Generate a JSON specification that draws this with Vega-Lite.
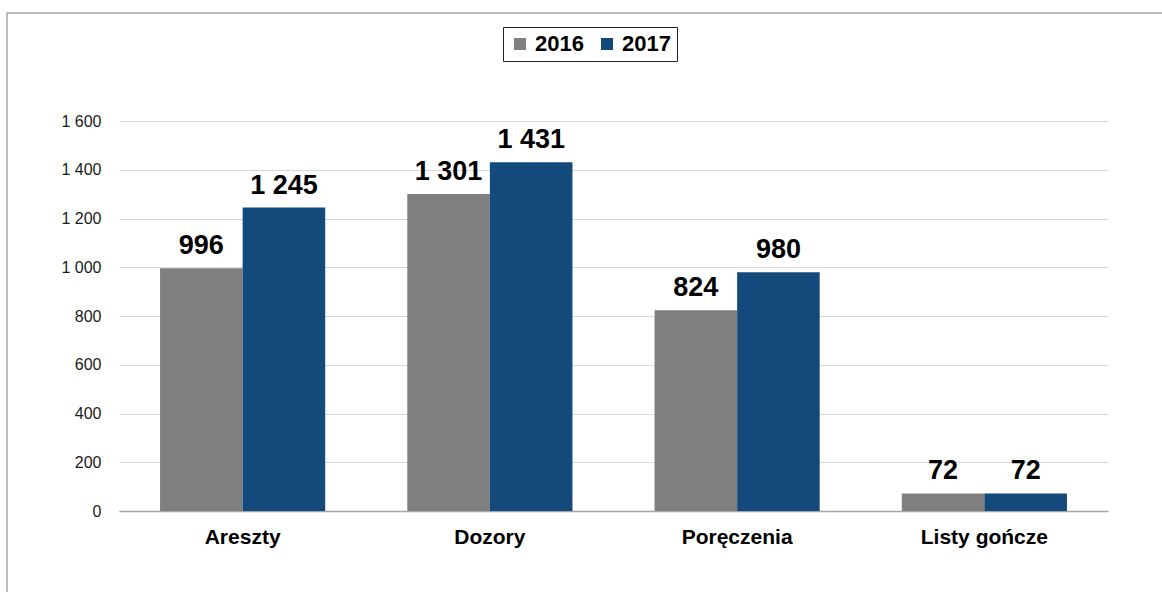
{
  "$schema": "https://vega.github.io/schema/vega-lite/v6.json",
  "autosize": "none",
  "padding": {"left": 7, "top": 13, "right": 0, "bottom": 0},
  "width": 1159,
  "height": 583,
  "background": "white",
  "config": {
    "locale": {"number": {"decimal": ",", "thousands": "\u00a0", "grouping": [3], "currency": ["", ""]}},
    "view": {"stroke": "#a6a6a6", "strokeWidth": 1.5},
    "font": "Liberation Sans"
  },
  "data": {
    "values": [
      {"kategoria": "Areszty", "rok": "2016", "liczba": 996},
      {"kategoria": "Areszty", "rok": "2017", "liczba": 1245},
      {"kategoria": "Dozory", "rok": "2016", "liczba": 1301},
      {"kategoria": "Dozory", "rok": "2017", "liczba": 1431},
      {"kategoria": "Poręczenia", "rok": "2016", "liczba": 824},
      {"kategoria": "Poręczenia", "rok": "2017", "liczba": 980},
      {"kategoria": "Listy gończe", "rok": "2016", "liczba": 72},
      {"kategoria": "Listy gończe", "rok": "2017", "liczba": 72}
    ]
  },
  "encoding": {
    "x": {
      "field": "kategoria",
      "type": "nominal",
      "sort": ["Areszty", "Dozory", "Poręczenia", "Listy gończe"],
      "scale": {"range": [112, 1101], "paddingInner": 0.332, "paddingOuter": 0.166},
      "axis": {
        "title": null,
        "orient": "bottom",
        "offset": -85,
        "labelAngle": 0,
        "ticks": false,
        "domainColor": "#a6a6a6",
        "domainWidth": 1.5,
        "labelFont": "Liberation Sans",
        "labelFontWeight": "bold",
        "labelFontSize": 21,
        "labelColor": "#000000",
        "labelPadding": 15
      }
    },
    "xOffset": {"field": "rok", "type": "nominal"},
    "y": {
      "field": "liczba",
      "type": "quantitative",
      "scale": {"domain": [0, 1600], "range": [498, 108], "nice": false, "zero": true},
      "axis": {
        "title": null,
        "offset": -112,
        "values": [0, 200, 400, 600, 800, 1000, 1200, 1400, 1600],
        "format": ",d",
        "ticks": false,
        "domain": false,
        "grid": true,
        "gridColor": "#d9d9d9",
        "gridWidth": 1,
        "labelFontSize": 16,
        "labelColor": "#1a1a1a",
        "labelPadding": 18
      }
    }
  },
  "layer": [
    {
      "mark": {"type": "bar"},
      "encoding": {
        "color": {
          "field": "rok",
          "type": "nominal",
          "scale": {"domain": ["2016", "2017"], "range": ["#7f7f7f", "#134a7b"]},
          "legend": {
            "title": null,
            "orient": "none",
            "direction": "horizontal",
            "legendX": 496,
            "legendY": 14,
            "symbolType": "square",
            "symbolSize": 144,
            "symbolStrokeWidth": 0,
            "labelFontSize": 22,
            "labelFontWeight": "bold",
            "labelColor": "#000000",
            "labelOffset": 4,
            "columnPadding": 12,
            "padding": 6,
            "strokeColor": "#222222",
            "fillColor": "white",
            "cornerRadius": 0
          }
        }
      }
    },
    {
      "mark": {"type": "text", "baseline": "bottom", "dy": -8, "fontSize": 27, "fontWeight": "bold", "color": "#000000"},
      "encoding": {
        "text": {"field": "liczba", "type": "quantitative", "format": ",d"}
      }
    }
  ]
}
